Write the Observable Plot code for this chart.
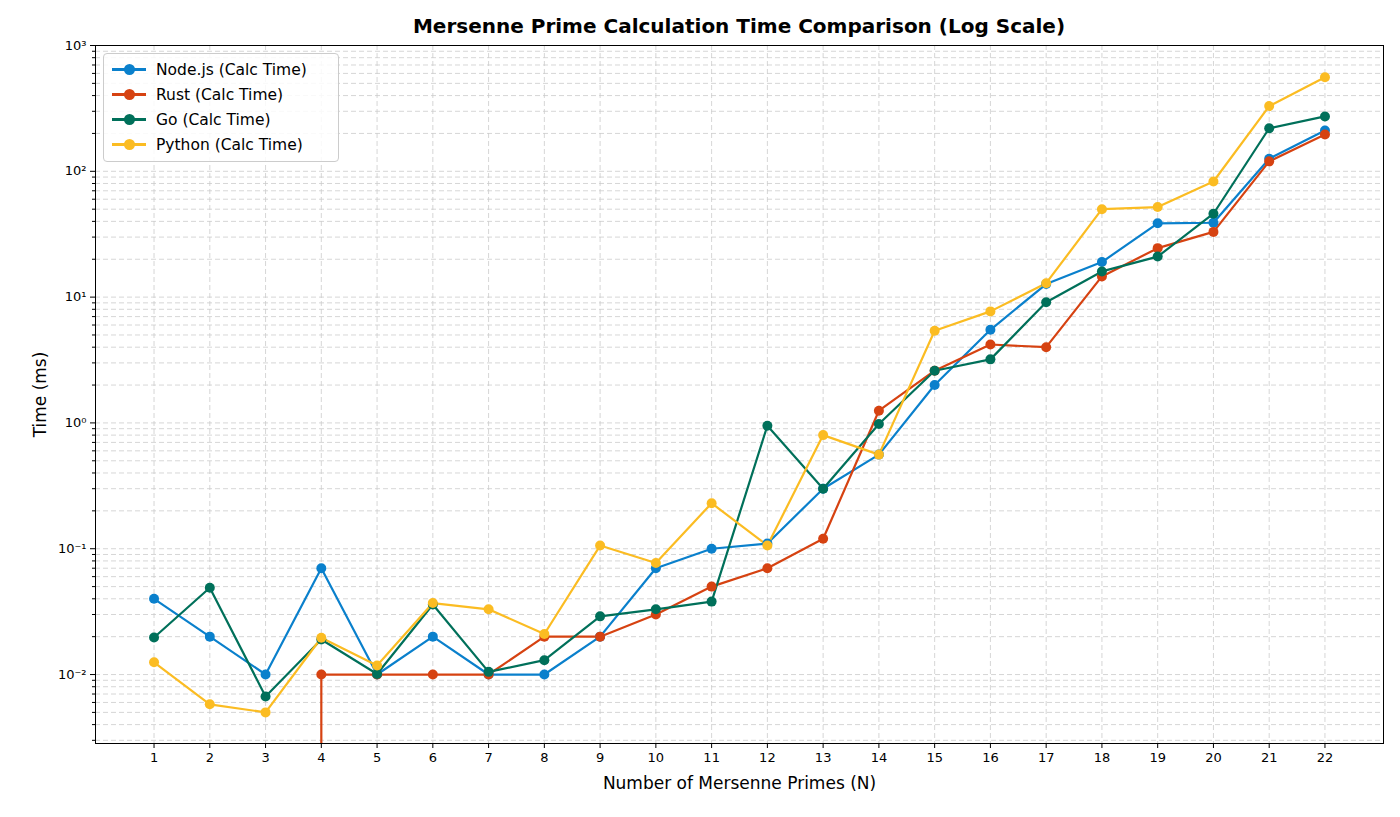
<!DOCTYPE html>
<html><head><meta charset="utf-8">
<script src="https://cdn.jsdelivr.net/npm/d3@7"></script>
<script src="https://cdn.jsdelivr.net/npm/@observablehq/plot@0.6"></script>
<style>
body{margin:0;background:#fff;font-family:"DejaVu Sans",sans-serif;}
#wrap{position:relative;width:1400px;height:817px;}
#title{position:absolute;top:14px;left:95px;width:1288px;text-align:center;font-weight:bold;font-size:20px;}
#chart{position:absolute;top:36px;left:0;}
#legend{position:absolute;left:103px;top:53px;width:236px;height:109px;border:1px solid #ccc;border-radius:4px;background:rgba(255,255,255,0.85);font-size:15.5px;box-sizing:border-box;padding:3px 8px;}
.item{display:flex;align-items:center;height:25px;}
.sw{position:relative;width:34px;height:3px;margin-right:10px;}
.sw i{position:absolute;left:12px;top:-4px;width:11px;height:11px;border-radius:50%;}
</style></head><body>
<div id="wrap"><div id="title">Mersenne Prime Calculation Time Comparison (Log Scale)</div><div id="chart"></div><div id="legend"></div></div>
<script>
const N = d3.range(1, 23);
const nodeVals = [0.04,0.02,0.01,0.07,0.01,0.02,0.01,0.01,0.02,0.07,0.1,0.11,0.3,0.56,2.0,5.5,12.7,19,38.6,39,126,211];
const rustVals = [null,null,null,0.01,0.01,0.01,0.01,0.02,0.02,0.03,0.05,0.07,0.12,1.25,2.6,4.2,4.0,14.6,24.5,33,120,196];
const goVals = [0.0197,0.049,0.0067,0.019,0.0101,0.036,0.0105,0.013,0.029,0.033,0.038,0.95,0.3,0.98,2.6,3.2,9.1,16,21,46,220,273];
const pyVals = [0.0125,0.0058,0.005,0.0196,0.0118,0.037,0.033,0.021,0.106,0.077,0.23,0.106,0.8,0.56,5.4,7.7,12.9,50,52,83,330,560];
const seriesNames = ["Node.js (Calc Time)","Rust (Calc Time)","Go (Calc Time)","Python (Calc Time)"];
const colors = ["#0a80cc","#d64211","#00705a","#fbbc22"];
const all = [nodeVals,rustVals,goVals,pyVals];
const data = [];
all.forEach((vals,si)=>vals.forEach((v,i)=>{ if(v!=null) data.push({n:N[i],v,s:seriesNames[si]}); }));
const yDomain=[0.00283,1000];
const minor=[]; for(let e=-3;e<3;e++) for(let k=1;k<10;k++){const t=k*10**e; if(t>=yDomain[0]&&t<=yDomain[1]) minor.push(t);}
const majors=[0.01,0.1,1,10,100,1000];
const sup={"-":"⁻","0":"⁰","1":"¹","2":"²","3":"³"};
const fmt=d=>"10"+String(Math.round(Math.log10(d))).split("").map(c=>sup[c]).join("");
const rustStart = data.find(d=>d.s===seriesNames[1]);
const plot = Plot.plot({
  width:1400,height:781,marginTop:9,marginBottom:74,marginLeft:95,marginRight:17,
  style:{fontFamily:"DejaVu Sans",fontSize:"13px",overflow:"visible"},
  x:{type:"linear",domain:[-0.05,23.05]},
  y:{type:"log",domain:yDomain},
  color:{domain:seriesNames,range:colors},
  marks:[
    Plot.ruleY(minor,{stroke:"#ccc",strokeDasharray:"5,3",strokeWidth:0.8}),
    Plot.ruleX(N,{stroke:"#ccc",strokeDasharray:"5,3",strokeWidth:0.8}),
    Plot.ruleX([rustStart],{x:"n",y1:yDomain[0],y2:"v",stroke:colors[1],strokeWidth:2.2}),
    Plot.line(data,{x:"n",y:"v",stroke:"s",z:"s",strokeWidth:2.2}),
    Plot.dot(data,{x:"n",y:"v",fill:"s",r:5}),
    Plot.frame({stroke:"black"}),
    Plot.axisX({ticks:N,tickFormat:d=>d,tickSize:5,fontSize:13,label:"Number of Mersenne Primes (N)",labelAnchor:"center",labelArrow:"none",labelOffset:45}),
    Plot.axisY({ticks:majors,tickFormat:fmt,tickSize:5,fontSize:13,label:"Time (ms)",labelAnchor:"center",labelArrow:"none",labelOffset:62}),
    Plot.axisY({ticks:minor.filter(t=>!majors.includes(t)),tickFormat:()=>"",tickSize:3,label:null})
  ]
});
plot.querySelectorAll('[aria-label="x-axis label"], [aria-label="y-axis label"]').forEach(g=>g.setAttribute("font-size","17"));
document.getElementById("chart").appendChild(plot);
const lg=document.getElementById("legend");
seriesNames.forEach((s,i)=>{lg.insertAdjacentHTML("beforeend",`<div class="item"><div class="sw" style="background:${colors[i]}"><i style="background:${colors[i]}"></i></div>${s}</div>`);});
</script></body></html>
